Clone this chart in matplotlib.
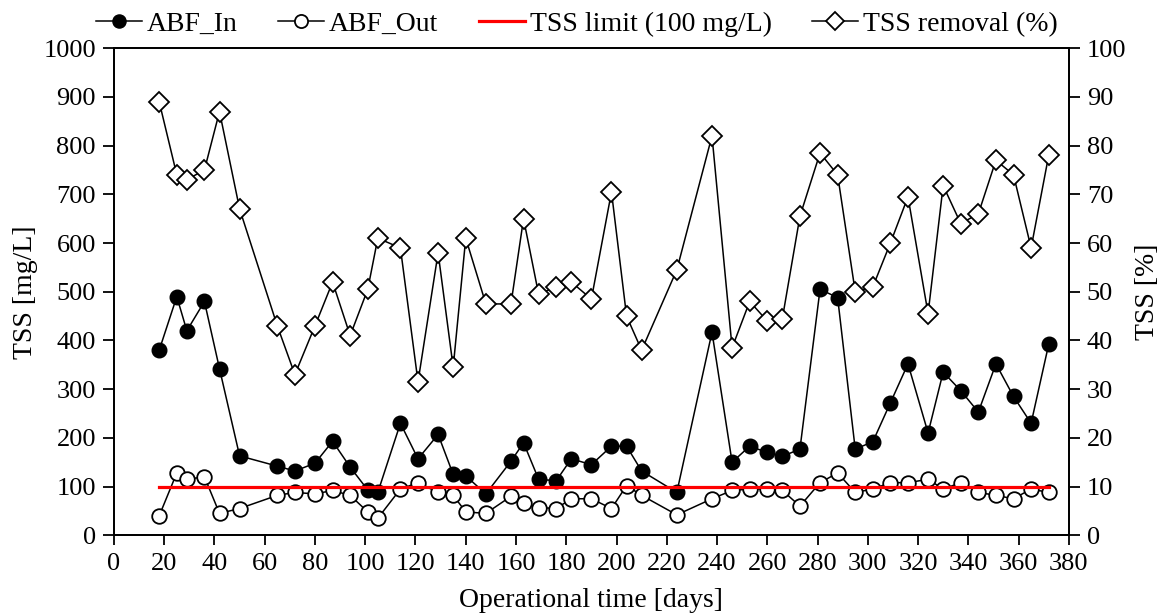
import matplotlib
matplotlib.use("Agg")
from matplotlib import pyplot as plt

plt.rcParams['font.family'] = ['Liberation Serif', 'DejaVu Serif']

# operational time (days) of each sampling campaign
days = [18, 25, 29, 36, 42, 50, 65, 72, 80, 87, 94, 101, 105, 114, 121, 129,
        135, 140, 148, 158, 163, 169, 176, 182, 190, 198, 204, 210, 224, 238,
        246, 253, 260, 266, 273, 281, 288, 295, 302, 309, 316, 324, 330, 337,
        344, 351, 358, 365, 372]

# influent TSS [mg/L]
abf_in = [380, 490, 420, 480, 342, 163, 142, 132, 148, 193, 140, 93, 88, 230,
          157, 207, 125, 122, 85, 152, 190, 115, 112, 157, 145, 183, 183, 132,
          88, 417, 150, 183, 170, 162, 177, 505, 488, 177, 192, 272, 352, 210,
          335, 297, 253, 352, 285, 230, 392]

# effluent TSS [mg/L]
abf_out = [40, 128, 115, 120, 45, 55, 82, 88, 85, 92, 82, 48, 35, 95, 108, 88,
           82, 48, 45, 80, 67, 57, 55, 75, 75, 55, 102, 82, 42, 75, 92, 95, 95,
           92, 60, 108, 128, 88, 95, 108, 108, 115, 95, 108, 88, 82, 75, 95, 88]

# TSS removal [%]
removal = [89, 74, 73, 75, 87, 67, 43, 33, 43, 52, 41, 50.5, 61, 59, 31.5, 58,
           34.5, 61, 47.5, 47.5, 65, 49.5, 51, 52, 48.5, 70.5, 45, 38, 54.5,
           82, 38.5, 48, 44, 44.5, 65.5, 78.5, 74, 50, 51, 60, 69.5, 45.5,
           71.8, 64, 66, 77, 74, 59, 78]

tss_limit = 100

fig = plt.figure(figsize=(11.63, 6.15), dpi=100)
ax = fig.add_axes([0.098, 0.1296, 0.821, 0.792])
ax2 = ax.twinx()

# removal on the secondary axis, drawn behind
ax2.plot(days, removal, '-', color='black', lw=1.1, marker='D', ms=10,
         mfc='white', mec='black', mew=1.3, label='TSS removal (%)')
ax2.set_zorder(1)
ax.set_zorder(2)
ax.patch.set_visible(False)

ax.plot(days, abf_in, '-', color='black', lw=1.1, marker='o', ms=10.5,
        mfc='black', mec='black', label='ABF_In')
ax.plot(days, abf_out, '-', color='black', lw=1.1, marker='o', ms=10.5,
        mfc='white', mec='black', mew=1.3, label='ABF_Out')
ax.plot([days[0], days[-1]], [tss_limit, tss_limit], '-', color='red', lw=2.3,
        label='TSS limit (100 mg/L)')

ax.set_xlim(0, 380)
ax.set_ylim(0, 1000)
ax2.set_ylim(0, 100)
ax.set_xticks(range(0, 381, 20))
ax.set_yticks(range(0, 1001, 100))
ax2.set_yticks(range(0, 101, 10))

fs_tick = 19
fs_lab = 20
ax.tick_params(axis='y', direction='out', length=8, width=1.3, labelsize=fs_tick, pad=5)
ax.tick_params(axis='x', direction='out', length=7, width=1.3, labelsize=fs_tick, pad=6)
ax2.tick_params(direction='out', length=8, width=1.3, labelsize=fs_tick, pad=5)
for a in (ax, ax2):
    for s in a.spines.values():
        s.set_linewidth(1.3)

ax.set_xlabel('Operational time [days]', fontsize=fs_lab, labelpad=9)
ax.set_ylabel('TSS [mg/L]', fontsize=fs_lab, labelpad=4)
ax2.set_ylabel('TSS [%]', fontsize=fs_lab, labelpad=6)

h1, l1 = ax.get_legend_handles_labels()
h2, l2 = ax2.get_legend_handles_labels()
fig.legend(h1 + h2, l1 + l2, loc='upper center', bbox_to_anchor=(0.496, 1.022),
           ncol=4, frameon=False, fontsize=fs_lab, handlelength=1.65,
           handletextpad=0.18, columnspacing=1.45, markerscale=0.9)

fig.savefig('out.png', dpi=100)
